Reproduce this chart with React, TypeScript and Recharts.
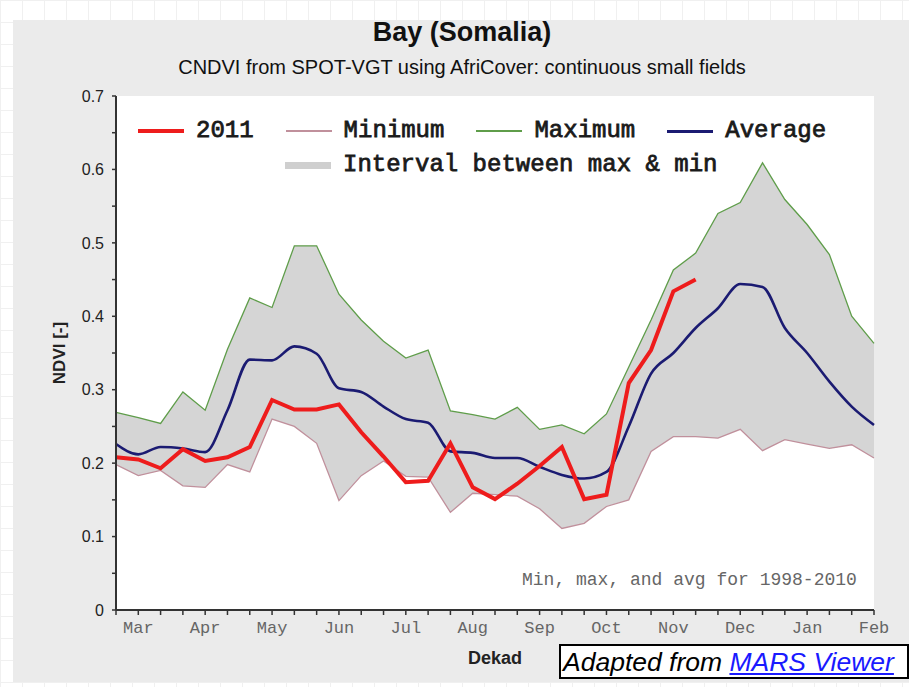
import React from "react";
import { ComposedChart, Area, Line, XAxis, YAxis, CartesianGrid } from "recharts";

// dekads from March (1st dekad) to February (2nd dekad)
const months = ["Mar", "Apr", "May", "Jun", "Jul", "Aug", "Sep", "Oct", "Nov", "Dec", "Jan", "Feb"];
const dekadNumbers = ["1", "2", "3"];
const dekads = months.flatMap((m) => dekadNumbers.map((d) => `${m} ${d}`)).slice(0, 35);

const maxNdvi = [
  0.269, 0.262, 0.254, 0.297, 0.272, 0.355, 0.425, 0.412, 0.496, 0.496,
  0.43, 0.395, 0.366, 0.343, 0.354, 0.271, 0.266, 0.26, 0.276, 0.246,
  0.252, 0.24, 0.267, 0.331, 0.395, 0.463, 0.486, 0.54, 0.555, 0.609,
  0.559, 0.525, 0.484, 0.4, 0.363,
];
const minNdvi = [
  0.198, 0.183, 0.19, 0.169, 0.167, 0.198, 0.188, 0.26, 0.25, 0.227,
  0.149, 0.183, 0.203, 0.182, 0.181, 0.133, 0.159, 0.157, 0.155, 0.138,
  0.111, 0.118, 0.141, 0.15, 0.216, 0.236, 0.236, 0.234, 0.246, 0.217,
  0.232, 0.226, 0.22, 0.225, 0.207,
];
const avgNdvi = [
  0.226, 0.212, 0.222, 0.22, 0.215, 0.272, 0.341, 0.34, 0.359, 0.349,
  0.302, 0.297, 0.277, 0.26, 0.255, 0.216, 0.214, 0.207, 0.207, 0.195,
  0.184, 0.179, 0.188, 0.25, 0.322, 0.35, 0.384, 0.411, 0.444, 0.44,
  0.384, 0.35, 0.311, 0.277, 0.252,
];
const ndvi2011 = [
  0.208, 0.205, 0.193, 0.219, 0.203, 0.208, 0.222, 0.286, 0.273, 0.273,
  0.28, 0.242, 0.209, 0.174, 0.176, 0.227, 0.167, 0.151, 0.172, 0.196,
  0.222, 0.151, 0.157, 0.309, 0.354, 0.434, 0.45,
];

const yTicks = [0, 0.05, 0.1, 0.15, 0.2, 0.25, 0.3, 0.35, 0.4, 0.45, 0.5, 0.55, 0.6, 0.65, 0.7];

const COLORS = {
  y2011: "#ee1c1c",
  min: "#c0909c",
  max: "#5f9d4a",
  avg: "#1b1b72",
  band: "#d5d5d5",
};

const legendRow1 = [
  { name: "2011", color: COLORS.y2011, thickness: 4 },
  { name: "Minimum", color: COLORS.min, thickness: 1.5 },
  { name: "Maximum", color: COLORS.max, thickness: 1.5 },
  { name: "Average", color: COLORS.avg, thickness: 3 },
];
const legendRow2 = [{ name: "Interval between max & min", color: "#cfcfcf", thickness: 7 }];

const data = dekads.map((dekad, i) => ({
  dekad,
  min: minNdvi[i],
  max: maxNdvi[i],
  avg: avgNdvi[i],
  range: [minNdvi[i], maxNdvi[i]],
  y2011: ndvi2011[i] ?? null,
}));

const mono = "'Liberation Mono', 'Courier New', monospace";
const sans = "'Liberation Sans', Arial, sans-serif";

const LegendRow = ({ items, left, top }) => (
  <div style={{ position: "absolute", left, top, display: "flex", gap: 32, height: 24, alignItems: "center" }}>
    {items.map((it) => (
      <div key={it.name} style={{ display: "flex", alignItems: "center" }}>
        <div style={{ width: 46, height: it.thickness, background: it.color, marginRight: 12 }} />
        <span
          style={{
            fontFamily: mono,
            fontSize: 24,
            lineHeight: "24px",
            color: "#1a1a1a",
            whiteSpace: "pre",
            WebkitTextStroke: "0.8px #1a1a1a",
          }}
        >
          {it.name}
        </span>
      </div>
    ))}
  </div>
);

export default function App() {
  return (
    <div
      style={{
        position: "absolute",
        left: 0,
        top: 0,
        width: 909,
        height: 687,
        overflow: "hidden",
        background: "#fff",
        backgroundImage:
          "linear-gradient(#f0f0f0 1px, transparent 1px), linear-gradient(90deg, #f0f0f0 1px, transparent 1px)",
        backgroundSize: "22px 22px",
      }}
    >
      <div style={{ position: "absolute", left: 13, top: 20, width: 896, height: 662, background: "#ebebeb" }} />
      <div style={{ position: "absolute", left: 212, top: 16, width: 500, textAlign: "center", fontFamily: sans, fontWeight: "bold", fontSize: 27, lineHeight: "32px", color: "#111" }}>
        Bay (Somalia)
      </div>
      <div style={{ position: "absolute", left: 112, top: 56, width: 700, textAlign: "center", fontFamily: sans, fontSize: 20, lineHeight: "22px", color: "#111" }}>
        CNDVI from SPOT-VGT using AfriCover: continuous small fields
      </div>
      <div style={{ position: "absolute", left: 0, top: 0 }}>
        <ComposedChart width={909} height={687} data={data} margin={{ top: 96, right: 35, bottom: 47, left: 56 }}>
          <CartesianGrid fill="#ffffff" horizontal={false} vertical={false} stroke="none" />
          <XAxis
            dataKey="dekad"
            scale="point"
            interval={0}
            height={30}
            padding={{ left: 0, right: 0 }}
            tickFormatter={(v) => (v.endsWith(" 2") ? v.split(" ")[0] : "")}
            tickSize={5}
            tickMargin={6}
            axisLine={{ stroke: "#333", strokeWidth: 2 }}
            tickLine={{ stroke: "#333", strokeWidth: 1.5 }}
            tick={{ fontFamily: mono, fontSize: 17, fill: "#666" }}
          />
          <YAxis
            width={60}
            domain={[0, 0.7]}
            ticks={yTicks}
            interval={0}
            tickFormatter={(v) => (Math.round(v * 100) % 10 === 0 ? (v === 0 ? "0" : v.toFixed(1)) : "")}
            tickSize={4}
            tickMargin={8}
            axisLine={{ stroke: "#333", strokeWidth: 2 }}
            tickLine={{ stroke: "#333", strokeWidth: 1.5 }}
            tick={{ fontFamily: sans, fontSize: 16, fill: "#222" }}
          />
          <Area dataKey="range" stroke="none" fill={COLORS.band} fillOpacity={1} isAnimationActive={false} activeDot={false} />
          <Line dataKey="min" stroke={COLORS.min} strokeWidth={1.3} dot={false} activeDot={false} isAnimationActive={false} />
          <Line dataKey="max" stroke={COLORS.max} strokeWidth={1.3} dot={false} activeDot={false} isAnimationActive={false} />
          <Line dataKey="avg" type="monotone" stroke={COLORS.avg} strokeWidth={2.6} dot={false} activeDot={false} isAnimationActive={false} />
          <Line dataKey="y2011" stroke={COLORS.y2011} strokeWidth={4} dot={false} activeDot={false} isAnimationActive={false} />
        </ComposedChart>
      </div>
      <LegendRow items={legendRow1} left={138} top={119} />
      <LegendRow items={legendRow2} left={285} top={153} />
      <div style={{ position: "absolute", left: 522, top: 569, fontFamily: mono, fontSize: 18, lineHeight: "22px", color: "#666", whiteSpace: "pre" }}>
        Min, max, and avg for 1998-2010
      </div>
      <div style={{ position: "absolute", left: 10, top: 343, width: 100, height: 20, transform: "rotate(-90deg)", textAlign: "center", fontFamily: sans, fontWeight: "bold", fontSize: 17, lineHeight: "20px", color: "#222" }}>
        NDVI [-]
      </div>
      <div style={{ position: "absolute", left: 395, top: 647, width: 200, textAlign: "center", fontFamily: sans, fontWeight: "bold", fontSize: 18, lineHeight: "22px", color: "#222" }}>
        Dekad
      </div>
      <div style={{ position: "absolute", left: 559, top: 644, width: 344, height: 31, border: "2px solid #000", background: "#fff", fontFamily: sans, fontStyle: "italic", fontSize: 26.5, lineHeight: "33px", whiteSpace: "pre", paddingLeft: 2 }}>
        Adapted from <span style={{ color: "#1a1aff", textDecoration: "underline" }}>MARS Viewer</span>
      </div>
    </div>
  );
}
